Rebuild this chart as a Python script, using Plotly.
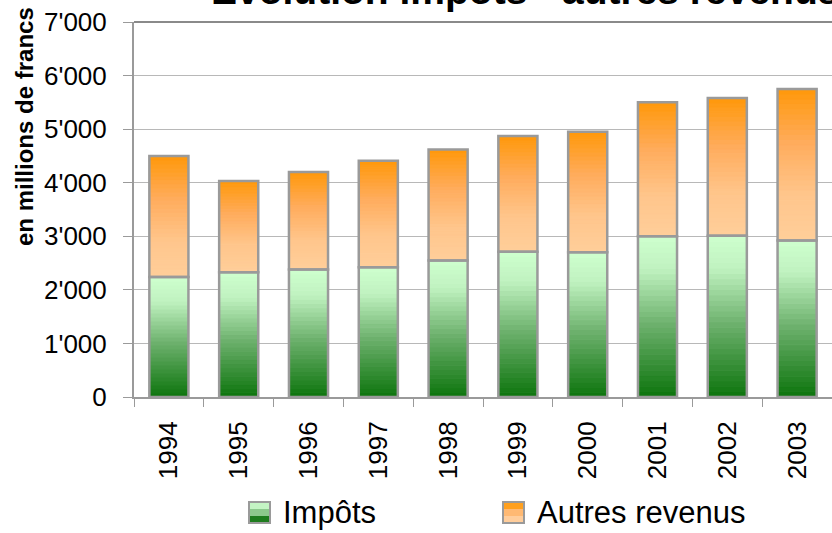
import plotly.graph_objects as go

# ---- data ----
years = ["1994", "1995", "1996", "1997", "1998", "1999", "2000", "2001", "2002", "2003"]
impots = [2240, 2330, 2380, 2420, 2550, 2710, 2700, 3000, 3010, 2920]
autres_revenus = [2260, 1700, 1820, 1990, 2070, 2160, 2250, 2500, 2570, 2830]
y_ticks = [0, 1000, 2000, 3000, 4000, 5000, 6000, 7000]
title_text = "Évolution impôts - autres revenus"
y_title = "en millions de francs"
legend_names = ["Impôts", "Autres revenus"]

# ---- geometry (pixels) ----
W, H = 832, 533
L, R, T, B = 134, 0, 22, 136
PW, PH = W - L - R, H - T - B
FONT = "Liberation Sans, Arial, sans-serif"


def px_x(x):
    return (x - L) / PW


def px_y(y):
    return (H - B - y) / PH


def interp(stops, t):
    for (t0, c0), (t1, c1) in zip(stops[:-1], stops[1:]):
        if t0 <= t <= t1:
            f = (t - t0) / (t1 - t0) if t1 > t0 else 0
            c = [round(a + (b - a) * f) for a, b in zip(c0, c1)]
            return "rgb(%d,%d,%d)" % tuple(c)
    c = stops[-1][1]
    return "rgb(%d,%d,%d)" % tuple(c)


green_stops = [(0.0, (12, 116, 12)), (0.45, (108, 176, 108)), (0.8, (192, 242, 192)), (1.0, (206, 255, 206))]
orange_stops = [(0.0, (255, 206, 154)), (0.3, (255, 198, 140)), (0.65, (255, 172, 92)), (1.0, (255, 152, 10))]

N = 30
BW = 0.56
fig = go.Figure()

for k in range(N):
    t = (k + 0.5) / N
    col = interp(green_stops, t)
    fig.add_trace(go.Bar(
        x=years, y=[v / N for v in impots], base=[v * k / N for v in impots],
        width=BW, marker=dict(color=col, line=dict(width=1, color=col)),
        showlegend=False, hoverinfo="skip"))
for k in range(N):
    t = (k + 0.5) / N
    col = interp(orange_stops, t)
    fig.add_trace(go.Bar(
        x=years, y=[a / N for a in autres_revenus],
        base=[i + a * k / N for i, a in zip(impots, autres_revenus)],
        width=BW, marker=dict(color=col, line=dict(width=1, color=col)),
        showlegend=False, hoverinfo="skip"))

# outlines
fig.add_trace(go.Bar(x=years, y=impots, base=[0] * len(years), width=BW, name=legend_names[0],
                     marker=dict(color="rgba(0,0,0,0)", line=dict(color="#9a9a9a", width=2.5)),
                     showlegend=False, hoverinfo="skip"))
fig.add_trace(go.Bar(x=years, y=autres_revenus, base=impots, width=BW, name=legend_names[1],
                     marker=dict(color="rgba(0,0,0,0)", line=dict(color="#9a9a9a", width=2.5)),
                     showlegend=False, hoverinfo="skip"))

shapes = []
annotations = []

# top frame line
shapes.append(dict(type="line", xref="paper", yref="paper", x0=0, x1=1, y0=1, y1=1,
                   line=dict(color="#8a8a8a", width=2)))


# custom legend
def legend_box(x0, colors):
    y0, y1 = 502, 523
    n = len(colors)
    for j, c in enumerate(colors):
        ya = y0 + (y1 - y0) * j / n
        yb = y0 + (y1 - y0) * (j + 1) / n
        shapes.append(dict(type="rect", xref="paper", yref="paper",
                           x0=px_x(x0), x1=px_x(x0 + 21), y0=px_y(yb), y1=px_y(ya),
                           fillcolor=c, line=dict(width=0)))
    shapes.append(dict(type="rect", xref="paper", yref="paper",
                       x0=px_x(x0), x1=px_x(x0 + 21), y0=px_y(y1), y1=px_y(y0),
                       fillcolor="rgba(0,0,0,0)", line=dict(color="#9a9a9a", width=2)))


legend_box(249, ["rgb(196,244,196)", "rgb(140,200,140)", "rgb(30,124,30)"])
legend_box(503, ["rgb(255,160,30)", "rgb(255,185,115)", "rgb(255,205,155)"])

annotations.append(dict(text=legend_names[0], xref="paper", yref="paper", x=px_x(281), y=px_y(512),
                        xanchor="left", yanchor="middle", showarrow=False,
                        font=dict(family=FONT, size=31, color="black")))
annotations.append(dict(text=legend_names[1], xref="paper", yref="paper", x=px_x(535), y=px_y(512),
                        xanchor="left", yanchor="middle", showarrow=False,
                        font=dict(family=FONT, size=31, color="black")))

# title
annotations.append(dict(text="<b>" + title_text + "</b>", xref="paper", yref="paper",
                        x=px_x(525), y=px_y(14), xanchor="center", yanchor="bottom", showarrow=False,
                        font=dict(family=FONT, size=39, color="black")))

# y-axis title
annotations.append(dict(text="<b>" + y_title + "</b>", xref="paper", yref="paper",
                        x=px_x(24), y=px_y(127), xanchor="center", yanchor="middle", showarrow=False,
                        textangle=-90, font=dict(family=FONT, size=24, color="black")))

fig.update_layout(
    width=W, height=H,
    margin=dict(l=L, r=R, t=T, b=B, pad=0, autoexpand=False),
    barmode="overlay",
    plot_bgcolor="white", paper_bgcolor="white",
    separators=".'",
    hovermode=False,
    showlegend=False,
    shapes=shapes,
    annotations=annotations,
    xaxis=dict(type="category", range=[-0.5, 9.5], showline=True, linecolor="#9a9a9a", linewidth=2,
               ticks="outside", ticklen=8, tickcolor="#9a9a9a", tickwidth=1, tickson="boundaries",
               tickangle=-90, ticklabelstandoff=12, automargin=False,
               tickfont=dict(family=FONT, size=26, color="black"), showgrid=False, zeroline=False,
               fixedrange=True),
    yaxis=dict(range=[0, 7000], tickvals=y_ticks, tickformat=",", showline=True, linecolor="#9a9a9a",
               linewidth=2, ticks="outside", ticklen=9, tickcolor="#9a9a9a", tickwidth=1,
               ticklabelstandoff=11, automargin=False,
               gridcolor="#b8b8b8", gridwidth=1, zeroline=False,
               tickfont=dict(family=FONT, size=26, color="black"), fixedrange=True),
)

fig.write_html("out.html", config={"displayModeBar": False},
               post_script="document.body.style.margin='0';document.body.style.overflow='hidden';")
